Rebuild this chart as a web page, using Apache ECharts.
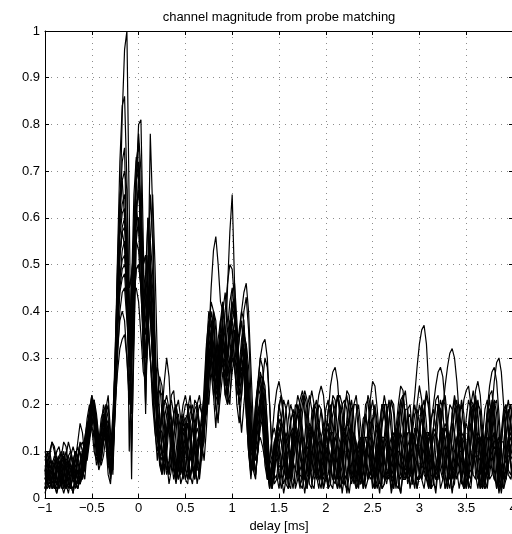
<!DOCTYPE html>
<html>
<head>
<meta charset="utf-8">
<script src="https://cdn.jsdelivr.net/npm/echarts@6/dist/echarts.min.js"></script>
<style>html,body{margin:0;padding:0;background:#fff}#c{width:512px;height:534px}</style>
</head>
<body>
<div id="c"></div>
<script>
// sample grid: delay in ms, -1 .. 4, step 0.025 (201 samples)
const delayStart = -1, delayStep = 0.025, sampleCount = 201;
const delays = Array.from({length: sampleCount}, (_, i) => Math.round((delayStart + i * delayStep) * 1000) / 1000);
const xTicks = [-1, -0.5, 0, 0.5, 1, 1.5, 2, 2.5, 3, 3.5, 4];
const yTicks = [0, 0.1, 0.2, 0.3, 0.4, 0.5, 0.6, 0.7, 0.8, 0.9, 1];
const titleText = 'channel magnitude from probe matching';
const xLabel = 'delay [ms]';

const s1 = [.04,.06,.05,.02,.03,.07,.08,.05,.02,.04,.06,.03,.01,.05,.09,.1,.06,.04,.1,.16,
.19,.17,.11,.08,.13,.17,.12,.05,.03,.1,.22,.38,.6,.82,.96,1.0,.62,.18,.35,.58,
.7,.55,.3,.45,.6,.5,.3,.2,.22,.18,.1,.06,.12,.17,.14,.06,.04,.1,.15,.12,
.07,.04,.09,.15,.13,.07,.05,.12,.2,.24,.2,.28,.4,.36,.22,.3,.38,.3,.45,.57,
.65,.46,.3,.34,.38,.3,.18,.1,.06,.12,.2,.24,.22,.15,.07,.04,.08,.13,.15,.12,
.05,.02,.05,.11,.17,.2,.18,.12,.05,.02,.06,.13,.19,.22,.19,.12,.05,.02,.06,.13,
.19,.21,.17,.1,.04,.02,.07,.14,.2,.22,.18,.11,.04,.02,.06,.12,.17,.18,.14,.07,
.02,.04,.1,.16,.2,.19,.13,.06,.02,.05,.12,.18,.21,.18,.11,.05,.1,.16,.2,.17,
.1,.04,.02,.06,.12,.17,.19,.15,.08,.02,.04,.1,.16,.2,.19,.13,.06,.02,.05,.11,
.17,.21,.19,.12,.05,.02,.06,.13,.19,.21,.17,.1,.04,.03,.08,.14,.19,.2,.15,.08,
.03];
const s2 = [.02,.05,.08,.07,.03,.01,.04,.08,.1,.07,.03,.02,.06,.09,.07,.03,.05,.11,.15,.18,
.2,.15,.09,.1,.15,.18,.14,.08,.06,.14,.3,.52,.72,.84,.86,.68,.38,.1,.32,.55,
.6,.52,.4,.38,.45,.42,.28,.15,.08,.13,.2,.18,.09,.05,.11,.18,.2,.14,.06,.05,
.11,.16,.13,.06,.04,.1,.15,.12,.08,.15,.25,.33,.38,.3,.2,.25,.34,.32,.22,.2,
.3,.36,.32,.24,.3,.33,.22,.1,.04,.1,.18,.24,.26,.2,.12,.05,.03,.06,.1,.08,
.04,.08,.12,.14,.12,.08,.04,.03,.07,.11,.13,.12,.08,.05,.06,.1,.14,.16,.13,.08,
.04,.05,.09,.12,.13,.11,.07,.03,.05,.1,.14,.15,.13,.09,.05,.03,.06,.1,.12,.11,
.07,.04,.06,.1,.13,.13,.1,.06,.04,.07,.11,.14,.13,.09,.05,.06,.11,.17,.22,.28,
.33,.36,.37,.33,.24,.14,.07,.05,.09,.13,.15,.13,.09,.05,.04,.08,.12,.14,.12,.08,
.05,.04,.08,.12,.14,.13,.09,.05,.03,.06,.1,.13,.14,.11,.07,.04,.06,.1,.12,.11,
.08];
const s3 = [.06,.04,.02,.05,.08,.09,.07,.03,.01,.03,.06,.07,.05,.03,.04,.07,.1,.12,.11,.14,
.17,.2,.16,.12,.1,.14,.16,.1,.04,.08,.25,.45,.6,.68,.7,.66,.4,.04,.4,.68,
.8,.81,.55,.25,.35,.5,.45,.3,.18,.1,.06,.09,.14,.16,.12,.06,.03,.07,.12,.16,
.15,.1,.05,.03,.07,.12,.14,.11,.15,.25,.32,.36,.3,.2,.16,.28,.4,.44,.38,.34,
.4,.42,.35,.25,.3,.36,.3,.18,.08,.06,.14,.22,.26,.22,.14,.06,.02,.05,.1,.13,
.1,.05,.01,.04,.1,.16,.19,.17,.1,.03,.02,.07,.14,.2,.23,.2,.12,.04,.02,.07,
.14,.19,.2,.15,.08,.02,.04,.11,.18,.23,.22,.15,.07,.02,.03,.09,.15,.18,.15,.09,
.03,.02,.08,.15,.2,.2,.14,.06,.01,.04,.11,.17,.19,.15,.08,.03,.05,.11,.15,.13,
.09,.13,.15,.13,.09,.05,.04,.07,.1,.14,.19,.24,.28,.31,.32,.3,.25,.18,.11,.06,
.02,.05,.12,.19,.22,.18,.1,.03,.02,.08,.16,.21,.2,.13,.05,.01,.05,.12,.18,.2,
.15];
const s4 = [.03,.02,.04,.06,.05,.03,.05,.09,.12,.11,.07,.03,.02,.04,.06,.05,.04,.08,.13,.17,
.21,.19,.13,.09,.11,.15,.14,.09,.07,.15,.32,.48,.58,.63,.65,.55,.4,.35,.5,.68,
.78,.7,.45,.18,.45,.78,.62,.35,.2,.12,.09,.13,.18,.2,.17,.1,.05,.06,.11,.15,
.14,.09,.05,.08,.14,.18,.16,.1,.12,.22,.35,.4,.36,.28,.3,.38,.42,.36,.3,.35,
.44,.46,.38,.28,.26,.32,.28,.16,.07,.08,.16,.25,.3,.28,.2,.1,.04,.07,.12,.14,
.12,.08,.05,.08,.13,.17,.18,.15,.1,.05,.04,.08,.12,.14,.12,.08,.04,.05,.09,.13,
.14,.12,.08,.04,.03,.07,.11,.14,.13,.1,.06,.03,.05,.09,.12,.13,.11,.07,.04,.06,
.1,.14,.16,.14,.1,.05,.03,.06,.1,.13,.14,.12,.08,.04,.04,.08,.12,.14,.13,.09,
.05,.04,.07,.11,.13,.12,.08,.04,.04,.08,.12,.15,.14,.1,.06,.04,.07,.11,.14,.13,
.09,.05,.04,.07,.11,.14,.13,.1,.06,.08,.13,.19,.25,.29,.3,.27,.2,.12,.06,.05,
.08];
const s5 = [.05,.08,.09,.06,.02,.03,.06,.08,.06,.03,.01,.04,.08,.1,.08,.05,.07,.1,.12,.15,
.18,.21,.18,.13,.1,.12,.18,.2,.12,.06,.22,.4,.52,.58,.6,.52,.42,.4,.55,.68,
.72,.6,.38,.3,.5,.65,.55,.3,.15,.12,.18,.25,.3,.26,.16,.08,.06,.1,.15,.18,
.16,.12,.08,.1,.15,.2,.22,.18,.2,.28,.34,.38,.33,.26,.3,.35,.32,.3,.36,.42,
.45,.4,.32,.36,.4,.38,.28,.14,.05,.08,.15,.22,.27,.25,.17,.08,.03,.05,.1,.14,
.2,.17,.1,.03,.02,.08,.15,.2,.19,.12,.05,.01,.05,.12,.18,.2,.15,.08,.04,.07,
.12,.18,.24,.27,.28,.25,.18,.1,.05,.04,.08,.12,.14,.12,.08,.04,.03,.07,.11,.14,
.17,.2,.16,.09,.02,.03,.1,.17,.21,.18,.1,.03,.01,.06,.13,.19,.2,.14,.06,.02,
.05,.12,.19,.23,.2,.12,.04,.01,.06,.14,.2,.22,.17,.09,.02,.03,.1,.17,.21,.18,
.1,.03,.02,.08,.15,.2,.19,.12,.04,.02,.07,.14,.2,.21,.15,.07,.02,.04,.11,.17,
.19];
const s6 = [.08,.1,.07,.03,.02,.05,.07,.05,.02,.04,.07,.09,.07,.03,.02,.05,.09,.13,.16,.17,
.15,.1,.08,.12,.17,.19,.15,.08,.1,.18,.28,.38,.47,.53,.55,.45,.3,.32,.5,.62,
.66,.6,.5,.52,.46,.4,.3,.22,.2,.23,.22,.16,.09,.05,.08,.13,.17,.18,.14,.08,
.04,.06,.11,.16,.19,.2,.16,.12,.18,.26,.3,.27,.22,.25,.32,.35,.3,.26,.3,.38,
.42,.38,.3,.28,.34,.37,.3,.2,.12,.14,.2,.25,.24,.18,.1,.04,.04,.08,.12,.13,
.1,.06,.03,.05,.1,.14,.15,.12,.07,.03,.04,.08,.13,.16,.15,.11,.06,.04,.06,.11,
.15,.16,.13,.08,.04,.05,.1,.13,.14,.11,.07,.04,.05,.09,.12,.1,.06,.08,.15,.21,
.25,.24,.19,.12,.06,.04,.07,.11,.13,.12,.09,.05,.04,.07,.11,.14,.14,.11,.07,.04,
.04,.07,.11,.14,.14,.11,.07,.04,.05,.09,.13,.15,.13,.09,.05,.04,.07,.11,.13,.12,
.09,.05,.04,.07,.11,.13,.12,.08,.05,.05,.09,.12,.14,.12,.08,.05,.06,.1,.13,.14,
.11];
const s7 = [.01,.03,.06,.08,.07,.04,.02,.04,.07,.08,.06,.03,.04,.08,.12,.16,.14,.09,.08,.12,
.16,.18,.15,.1,.07,.09,.13,.15,.1,.08,.2,.35,.45,.49,.5,.48,.45,.47,.55,.6,
.6,.52,.38,.35,.48,.55,.48,.32,.2,.15,.14,.1,.06,.08,.13,.18,.2,.16,.1,.05,
.06,.11,.16,.18,.15,.1,.06,.1,.2,.3,.36,.34,.28,.24,.3,.34,.3,.24,.28,.35,
.38,.34,.26,.2,.25,.3,.26,.16,.1,.12,.18,.24,.3,.33,.34,.3,.2,.1,.04,.05,
.02,.06,.13,.19,.21,.16,.08,.02,.04,.11,.18,.22,.19,.11,.03,.02,.08,.15,.19,.16,
.09,.02,.03,.1,.17,.22,.2,.13,.05,.01,.05,.13,.2,.22,.17,.09,.02,.04,.11,.16,
.17,.12,.05,.01,.06,.13,.19,.2,.14,.06,.02,.07,.15,.21,.23,.18,.1,.03,.03,.09,
.16,.2,.18,.11,.04,.02,.08,.15,.2,.19,.12,.05,.02,.07,.14,.19,.18,.11,.04,.02,
.07,.14,.19,.2,.14,.06,.02,.05,.12,.18,.21,.17,.09,.02,.04,.11,.17,.19,.14,.07,
.03];
const s8 = [.07,.05,.03,.04,.07,.1,.11,.08,.04,.02,.03,.06,.08,.07,.04,.03,.06,.11,.15,.19,
.22,.2,.14,.08,.09,.14,.18,.14,.06,.12,.3,.45,.56,.61,.62,.5,.25,.28,.42,.49,
.5,.46,.4,.38,.35,.3,.24,.17,.12,.14,.18,.21,.2,.15,.08,.04,.07,.12,.16,.17,
.13,.08,.04,.07,.12,.17,.2,.18,.14,.22,.34,.45,.53,.56,.5,.42,.4,.36,.3,.34,
.4,.42,.36,.28,.3,.32,.26,.15,.07,.06,.11,.17,.21,.2,.14,.07,.03,.06,.11,.15,
.17,.15,.11,.06,.04,.07,.12,.16,.18,.16,.11,.06,.03,.05,.09,.12,.12,.09,.05,.04,
.07,.11,.14,.14,.11,.06,.04,.07,.12,.16,.17,.14,.09,.05,.03,.06,.1,.13,.13,.1,
.06,.04,.07,.12,.16,.18,.15,.1,.05,.04,.08,.12,.14,.12,.08,.04,.05,.09,.13,.15,
.13,.09,.05,.04,.08,.12,.15,.14,.1,.06,.04,.07,.11,.13,.11,.07,.04,.06,.1,.14,
.16,.14,.1,.05,.04,.08,.12,.14,.12,.08,.04,.05,.09,.12,.13,.1,.06,.04,.07,.11,
.13];
const s9 = [.04,.07,.1,.12,.11,.08,.04,.02,.05,.08,.09,.07,.04,.02,.04,.08,.1,.09,.1,.14,
.18,.2,.17,.12,.1,.13,.17,.16,.1,.09,.18,.3,.4,.44,.45,.38,.3,.4,.58,.68,
.7,.62,.48,.45,.4,.3,.22,.16,.13,.1,.08,.11,.15,.18,.17,.12,.06,.04,.08,.13,
.17,.18,.14,.08,.04,.07,.13,.18,.22,.28,.32,.3,.25,.28,.34,.38,.33,.28,.32,.38,
.36,.3,.28,.34,.4,.44,.46,.4,.28,.16,.08,.1,.16,.2,.19,.13,.06,.03,.06,.12,
.16,.17,.14,.09,.05,.06,.1,.15,.18,.19,.15,.1,.05,.04,.08,.13,.18,.22,.24,.22,
.16,.09,.03,.02,.08,.15,.2,.18,.11,.04,.01,.05,.12,.18,.2,.15,.07,.02,.04,.1,
.16,.19,.15,.08,.02,.03,.09,.16,.21,.2,.13,.05,.01,.05,.12,.17,.18,.13,.06,.02,
.05,.11,.18,.22,.19,.11,.03,.02,.08,.16,.21,.2,.13,.05,.01,.05,.12,.18,.2,.15,
.07,.02,.04,.11,.18,.21,.17,.09,.02,.03,.1,.17,.21,.18,.1,.03,.02,.07,.13,.16,
.12];
const s10 = [.09,.07,.04,.03,.05,.08,.09,.07,.03,.02,.05,.09,.11,.09,.05,.03,.05,.09,.14,.18,
.2,.17,.12,.11,.14,.16,.13,.07,.05,.12,.26,.42,.52,.57,.58,.52,.45,.48,.53,.55,
.53,.45,.32,.3,.4,.48,.42,.28,.16,.1,.12,.17,.2,.18,.12,.06,.05,.1,.16,.2,
.22,.19,.13,.07,.05,.09,.14,.16,.15,.2,.28,.35,.4,.38,.3,.26,.32,.4,.46,.5,
.49,.42,.3,.22,.26,.3,.27,.18,.1,.08,.12,.18,.22,.2,.13,.06,.02,.05,.1,.14,
.15,.12,.07,.04,.05,.1,.14,.16,.14,.09,.05,.04,.08,.13,.15,.13,.08,.04,.05,.09,
.13,.15,.13,.08,.04,.05,.09,.13,.15,.13,.09,.05,.04,.07,.11,.13,.12,.08,.04,.05,
.09,.13,.15,.13,.09,.05,.04,.08,.12,.14,.13,.09,.05,.04,.07,.11,.13,.12,.08,.04,
.05,.09,.13,.14,.11,.07,.04,.06,.1,.13,.13,.1,.06,.04,.06,.1,.13,.14,.12,.08,
.05,.07,.12,.18,.23,.25,.22,.15,.08,.04,.05,.09,.12,.13,.1,.06,.04,.06,.1,.13,
.12];
const s11 = [.03,.05,.07,.06,.04,.06,.09,.1,.08,.04,.02,.04,.07,.06,.03,.04,.07,.09,.12,.16,
.19,.18,.13,.09,.1,.13,.12,.07,.08,.16,.24,.32,.38,.4,.38,.3,.2,.38,.55,.63,
.65,.6,.5,.52,.45,.38,.3,.22,.14,.08,.05,.08,.13,.17,.17,.13,.08,.04,.06,.11,
.15,.16,.12,.07,.05,.08,.12,.14,.18,.24,.3,.33,.3,.22,.2,.26,.33,.36,.3,.28,
.34,.38,.35,.28,.3,.35,.33,.22,.12,.08,.1,.15,.2,.22,.18,.1,.04,.03,.07,.12,
.14,.12,.08,.04,.05,.09,.13,.16,.18,.21,.23,.2,.14,.08,.04,.05,.09,.12,.12,.09,
.05,.03,.06,.1,.13,.14,.12,.08,.04,.05,.09,.12,.13,.11,.07,.04,.05,.09,.12,.13,
.11,.07,.04,.06,.1,.13,.12,.08,.05,.09,.15,.2,.24,.23,.17,.1,.05,.04,.07,.11,
.14,.17,.15,.09,.03,.02,.08,.15,.2,.19,.12,.05,.02,.06,.13,.19,.21,.16,.08,.02,
.03,.09,.16,.2,.18,.11,.04,.02,.07,.14,.19,.2,.14,.06,.01,.04,.11,.17,.19,.15,
.08];
const s12 = [.06,.03,.02,.04,.07,.08,.06,.03,.05,.09,.12,.1,.06,.03,.02,.05,.08,.1,.13,.17,
.2,.19,.15,.12,.14,.17,.15,.1,.06,.1,.24,.38,.47,.51,.52,.46,.35,.38,.44,.45,
.42,.35,.27,.25,.36,.42,.38,.25,.14,.07,.05,.09,.14,.16,.14,.09,.05,.07,.12,.17,
.2,.2,.16,.1,.06,.08,.13,.17,.16,.18,.25,.3,.28,.22,.24,.3,.28,.22,.25,.3,
.32,.28,.22,.24,.28,.26,.18,.1,.05,.08,.14,.19,.2,.16,.1,.06,.08,.13,.19,.23,
.25,.22,.16,.09,.04,.05,.09,.13,.14,.11,.07,.04,.06,.1,.13,.14,.12,.08,.04,.05,
.09,.12,.13,.11,.07,.04,.06,.1,.14,.16,.15,.11,.06,.04,.06,.1,.13,.13,.1,.06,
.04,.07,.11,.13,.12,.08,.04,.05,.09,.13,.15,.13,.09,.05,.04,.07,.11,.14,.13,.09,
.05,.04,.08,.12,.14,.12,.08,.05,.06,.1,.14,.16,.14,.1,.06,.04,.06,.11,.16,.21,
.23,.24,.2,.13,.07,.04,.06,.1,.13,.13,.1,.06,.04,.06,.1,.12,.12,.09,.05,.04,
.07];
const s13 = [.05,.04,.05,.07,.09,.08,.05,.03,.04,.07,.08,.06,.04,.05,.08,.11,.12,.1,.09,.13,
.17,.16,.12,.1,.12,.15,.14,.1,.09,.15,.25,.36,.44,.47,.48,.4,.28,.35,.5,.57,
.58,.52,.44,.42,.38,.3,.2,.14,.1,.13,.17,.2,.22,.19,.13,.07,.04,.06,.1,.12,
.1,.06,.04,.07,.12,.15,.13,.09,.14,.23,.3,.35,.33,.27,.23,.27,.3,.28,.24,.27,
.3,.28,.24,.26,.3,.28,.2,.12,.07,.08,.1,.12,.13,.11,.08,.06,.07,.09,.1,.09,
.07,.06,.07,.09,.1,.1,.08,.06,.05,.06,.08,.1,.11,.1,.08,.06,.05,.06,.08,.09,
.1,.12,.15,.18,.2,.21,.22,.2,.16,.11,.07,.05,.06,.08,.1,.11,.1,.08,.06,.05,
.06,.08,.1,.11,.1,.08,.06,.06,.07,.09,.1,.1,.09,.07,.06,.07,.09,.11,.12,.11,
.09,.07,.06,.08,.12,.16,.2,.24,.27,.28,.26,.2,.13,.07,.05,.06,.08,.1,.1,.08,
.06,.05,.06,.08,.09,.09,.08,.06,.05,.06,.08,.1,.11,.1,.08,.07,.07,.08,.09,.09,
.08];
const s14 = [.02,.04,.06,.05,.03,.02,.05,.08,.09,.06,.04,.05,.08,.1,.09,.06,.04,.07,.1,.13,
.15,.14,.1,.06,.08,.12,.15,.13,.1,.14,.2,.27,.32,.34,.35,.3,.22,.3,.42,.49,
.5,.45,.38,.38,.43,.45,.38,.25,.14,.08,.06,.1,.15,.19,.21,.18,.12,.06,.05,.09,
.14,.18,.2,.17,.11,.06,.06,.1,.15,.2,.26,.3,.26,.19,.17,.22,.27,.26,.2,.22,
.27,.3,.27,.2,.22,.28,.3,.24,.14,.07,.06,.1,.15,.17,.15,.1,.05,.02,.05,.1,
.14,.16,.15,.11,.06,.04,.07,.11,.14,.17,.2,.23,.21,.15,.09,.04,.05,.09,.13,.15,
.14,.1,.06,.04,.07,.12,.17,.2,.21,.19,.13,.07,.03,.05,.09,.12,.13,.1,.06,.04,
.05,.09,.13,.15,.13,.09,.05,.04,.07,.11,.14,.15,.12,.08,.04,.05,.09,.14,.18,.19,
.16,.11,.06,.04,.06,.1,.13,.14,.12,.08,.05,.06,.1,.14,.16,.14,.1,.06,.04,.06,
.1,.14,.16,.14,.1,.06,.05,.08,.13,.19,.24,.27,.28,.25,.18,.1,.05,.04,.07,.11,
.13];
const s15 = [.02,.05,.09,.12,.1,.05,.02,.04,.08,.1,.07,.03,.01,.04,.09,.12,.1,.06,.1,.15,
.2,.21,.16,.1,.08,.12,.19,.22,.14,.05,.2,.42,.62,.72,.75,.5,.1,.28,.58,.72,
.76,.6,.32,.2,.38,.55,.65,.5,.3,.17,.1,.05,.09,.16,.22,.23,.17,.09,.03,.05,
.12,.19,.22,.17,.09,.03,.06,.14,.24,.33,.38,.33,.22,.15,.24,.36,.42,.36,.26,.3,
.38,.4,.32,.2,.14,.2,.26,.24,.15,.06,.04,.12,.2,.26,.24,.16,.07,.02,.05,.12,
.19,.22,.18,.1,.03,.02,.08,.15,.2,.18,.11,.04,.02,.07,.15,.2,.19,.13,.05,.02,
.06,.13,.19,.21,.16,.08,.02,.04,.1,.17,.21,.19,.12,.04,.02,.07,.14,.2,.21,.15,
.07,.02,.04,.11,.18,.22,.19,.11,.04,.02,.07,.15,.21,.22,.16,.08,.02,.05,.13,.2,
.24,.21,.13,.05,.02,.07,.15,.21,.22,.16,.08,.02,.04,.11,.18,.22,.19,.11,.04,.02,
.06,.13,.2,.23,.19,.11,.03,.02,.08,.16,.22,.23,.17,.09,.02,.04,.11,.18,.21,.17,
.1];
const s16 = [.06,.09,.1,.07,.03,.01,.03,.07,.09,.07,.04,.02,.05,.09,.11,.09,.05,.06,.12,.18,
.22,.18,.11,.07,.1,.16,.2,.17,.09,.1,.27,.5,.65,.68,.6,.42,.3,.45,.65,.73,
.7,.5,.4,.48,.6,.52,.36,.24,.22,.26,.24,.17,.08,.03,.06,.13,.19,.21,.17,.1,
.04,.03,.09,.16,.21,.2,.13,.08,.16,.28,.36,.42,.4,.3,.26,.32,.36,.3,.22,.26,
.32,.35,.3,.26,.32,.4,.43,.36,.22,.1,.05,.1,.18,.24,.23,.15,.06,.02,.06,.14,
.2,.22,.17,.09,.02,.04,.11,.18,.22,.2,.13,.05,.02,.06,.13,.19,.21,.16,.08,.02,
.04,.1,.17,.22,.21,.14,.06,.01,.05,.12,.18,.21,.17,.09,.03,.03,.1,.17,.22,.2,
.12,.04,.02,.07,.15,.2,.2,.13,.05,.02,.06,.13,.19,.22,.17,.09,.03,.03,.09,.16,
.2,.18,.11,.04,.02,.07,.15,.2,.2,.14,.06,.02,.05,.12,.18,.21,.16,.09,.03,.03,
.09,.16,.21,.2,.13,.05,.02,.06,.13,.18,.19,.13,.06,.02,.05,.12,.18,.2,.15,.08,
.03];
const s17 = [.1,.08,.05,.02,.03,.06,.08,.06,.03,.05,.09,.1,.08,.04,.02,.04,.08,.12,.17,.2,
.18,.12,.07,.09,.15,.2,.18,.11,.05,.09,.23,.4,.52,.57,.54,.4,.33,.44,.57,.62,
.58,.44,.35,.42,.52,.46,.33,.26,.28,.25,.18,.1,.05,.07,.13,.18,.2,.16,.09,.04,
.06,.12,.18,.2,.16,.09,.04,.09,.2,.32,.4,.38,.3,.22,.28,.33,.29,.22,.2,.28,
.34,.3,.2,.16,.22,.3,.33,.28,.18,.08,.05,.11,.19,.25,.3,.28,.2,.1,.03,.04,
.1,.17,.21,.19,.12,.05,.02,.06,.13,.19,.22,.18,.1,.03,.02,.08,.15,.2,.19,.13,
.05,.02,.06,.13,.19,.22,.18,.1,.03,.02,.08,.15,.2,.2,.14,.06,.02,.05,.12,.18,
.21,.17,.09,.03,.03,.1,.17,.21,.18,.1,.03,.02,.07,.14,.19,.19,.13,.05,.02,.06,
.13,.19,.21,.16,.08,.02,.03,.1,.17,.21,.19,.11,.04,.02,.07,.14,.19,.2,.14,.06,
.02,.05,.12,.18,.21,.17,.09,.03,.03,.09,.16,.2,.18,.11,.04,.02,.06,.13,.18,.2,
.16];

const magnitudes = [s1, s2, s3, s4, s5, s6, s7, s8, s9, s10, s11, s12, s13, s14, s15, s16, s17];

const FONT = '"Liberation Sans", Arial, Helvetica, sans-serif';
const fmtX = v => { const r = Math.round(v * 10) / 10; return r < 0 ? '\u2212' + (-r) : String(r); };
const fmtY = v => String(Math.round(v * 10) / 10);

const chart = echarts.init(document.getElementById('c'), null, {renderer: 'canvas'});
const gridL = 45, gridT = 31, gridW = 468, gridH = 467;

const baseAxis = {
  axisLine: {show: true, onZero: false, lineStyle: {color: '#000', width: 1}},
  axisTick: {show: true, inside: true, length: 4, lineStyle: {color: '#000', width: 1}},
};
const gridLineStyle = {color: '#8c8c8c', type: [1, 5], width: 1};

chart.setOption({
  animation: false,
  backgroundColor: '#fff',
  textStyle: {fontFamily: FONT},
  grid: {left: gridL, top: gridT, width: gridW, height: gridH, containLabel: false, outerBoundsMode: 'none'},
  graphic: [{
    type: 'text', x: 279, y: 17,
    style: {text: titleText, fill: '#000', font: '13px ' + FONT, align: 'center', verticalAlign: 'middle', textAlign: 'center', textVerticalAlign: 'middle'}
  }],
  xAxis: [
    Object.assign({}, baseAxis, {
      type: 'value', position: 'bottom', min: xTicks[0], max: xTicks[xTicks.length - 1], interval: xTicks[1] - xTicks[0],
      axisLabel: {color: '#000', fontSize: 13, margin: 4, formatter: fmtX, fontFamily: FONT, showMaxLabel: true, showMinLabel: true},
      splitLine: {show: true, lineStyle: gridLineStyle},
      name: xLabel, nameLocation: 'middle', nameGap: 18,
      nameTextStyle: {color: '#000', fontSize: 13, fontFamily: FONT}
    }),
    Object.assign({}, baseAxis, {
      type: 'value', position: 'top', min: xTicks[0], max: xTicks[xTicks.length - 1], interval: xTicks[1] - xTicks[0],
      axisLabel: {show: false}, splitLine: {show: false}
    })
  ],
  yAxis: [
    Object.assign({}, baseAxis, {
      type: 'value', position: 'left', min: yTicks[0], max: yTicks[yTicks.length - 1], interval: yTicks[1] - yTicks[0],
      axisLabel: {color: '#000', fontSize: 13, margin: 5, formatter: fmtY, fontFamily: FONT},
      splitLine: {show: true, lineStyle: gridLineStyle}
    }),
    Object.assign({}, baseAxis, {
      type: 'value', position: 'right', min: yTicks[0], max: yTicks[yTicks.length - 1], interval: yTicks[1] - yTicks[0],
      axisLabel: {show: false}, splitLine: {show: false}
    })
  ],
  series: magnitudes.map(vals => ({
    type: 'line',
    data: vals.map((v, i) => [delays[i], v]),
    showSymbol: false,
    symbol: 'none',
    clip: true,
    silent: true,
    lineStyle: {color: '#000', width: 1.2},
    z: 3
  }))
});
</script>
</body>
</html>
